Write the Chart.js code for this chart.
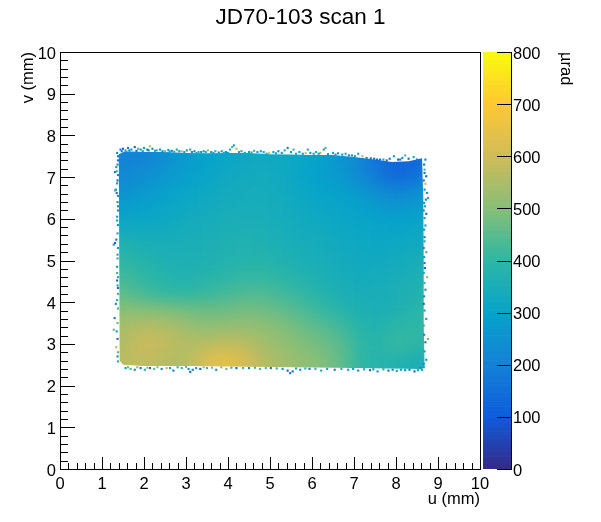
<!DOCTYPE html>
<html>
<head>
<meta charset="utf-8">
<script src="https://cdn.jsdelivr.net/npm/chart.js@4"></script>
<style>
html, body { margin: 0; padding: 0; background: #fff; overflow: hidden; }
#wrap { position: relative; width: 601px; height: 522px; }
canvas { position: absolute; top: 0; }
#main-chart { left: 0; }
#palette-chart { left: 483px; }
</style>
</head>
<body>
<div id="wrap">
<canvas id="main-chart" width="601" height="522"></canvas>
<canvas id="palette-chart" width="118" height="522"></canvas>
</div>
<script>
const chartTitle = 'JD70-103 scan 1';
const xTitle = 'u (mm)';
const yTitle = 'v (mm)';
const paletteTitle = 'µrad';
const axisTicks = [0, 1, 2, 3, 4, 5, 6, 7, 8, 9, 10];
const paletteTicks = [0, 100, 200, 300, 400, 500, 600, 700, 800];

// sample positions of the map
const gridU = [1.2, 1.6, 2.0, 2.4, 2.8, 3.2, 3.6, 4.0, 4.4, 4.8, 5.2, 5.6, 6.0, 6.4, 6.8, 7.2, 7.6, 8.0, 8.4, 8.8];
const gridV = [7.8, 7.4, 7.0, 6.6, 6.2, 5.8, 5.4, 5.0, 4.6, 4.2, 3.8, 3.4, 3.0, 2.6, 2.2];

// deflection, one row per gridV entry
const gridValues = [
    [205, 205, 205, 225, 255, 280, 295, 310, 320, 325, 325, 315, 300, 275, 245, 205, 150, 125, 130, 150],
    [205, 205, 210, 232, 262, 285, 300, 312, 322, 328, 325, 315, 302, 280, 250, 205, 155, 125, 130, 155],
    [222, 225, 240, 260, 282, 298, 312, 325, 332, 336, 330, 316, 298, 280, 258, 220, 175, 135, 150, 190],
    [250, 255, 272, 288, 304, 316, 326, 334, 340, 340, 335, 322, 308, 298, 288, 268, 238, 220, 235, 255],
    [288, 290, 298, 310, 320, 328, 336, 342, 346, 346, 340, 330, 320, 312, 306, 295, 280, 272, 280, 288],
    [330, 328, 326, 328, 334, 340, 348, 352, 354, 352, 346, 338, 330, 324, 316, 310, 305, 302, 308, 314],
    [370, 365, 355, 350, 350, 352, 358, 364, 368, 364, 356, 348, 342, 334, 326, 320, 318, 320, 326, 332],
    [400, 392, 376, 362, 356, 358, 364, 372, 378, 378, 370, 358, 350, 342, 334, 328, 328, 334, 342, 348],
    [428, 418, 400, 382, 372, 374, 385, 395, 403, 405, 395, 380, 364, 352, 342, 338, 340, 345, 354, 362],
    [458, 448, 428, 405, 398, 402, 414, 426, 436, 438, 425, 410, 390, 370, 355, 348, 348, 355, 368, 380],
    [500, 505, 495, 495, 485, 472, 468, 470, 480, 475, 462, 445, 422, 398, 375, 358, 355, 362, 380, 395],
    [535, 550, 565, 560, 545, 520, 512, 518, 520, 512, 500, 478, 458, 440, 412, 378, 372, 395, 400, 395],
    [550, 565, 595, 590, 565, 560, 570, 578, 572, 540, 520, 502, 482, 465, 440, 395, 385, 412, 405, 390],
    [560, 572, 578, 570, 555, 580, 635, 640, 615, 570, 545, 525, 505, 485, 445, 395, 380, 375, 360, 350],
    [560, 572, 575, 568, 552, 580, 635, 640, 615, 570, 545, 525, 505, 485, 445, 395, 380, 370, 355, 345]
];

// edge of the scanned area
const outlineU = [1.40, 1.55, 2.0, 2.5, 3.0, 3.5, 4.0, 4.5, 5.0, 5.5, 6.0, 6.5, 7.0, 7.5, 7.9, 8.3, 8.62, 8.65, 8.66, 8.66, 8.68, 8.6, 7.0, 5.5, 4.0, 3.0, 2.0, 1.5, 1.42];
const outlineV = [7.55, 7.62, 7.6, 7.6, 7.58, 7.57, 7.58, 7.58, 7.55, 7.54, 7.53, 7.53, 7.48, 7.42, 7.36, 7.38, 7.45, 6.5, 5.0, 3.5, 2.45, 2.4, 2.42, 2.44, 2.46, 2.47, 2.47, 2.5, 2.6];

// noisy single bins round the edge
const fringeU = [
    1.44, 1.50, 1.56, 1.62, 1.70, 1.78, 1.86, 1.92, 2.00, 2.08,
    2.14, 2.20, 2.30, 2.38, 2.50, 2.58, 2.66, 2.78, 2.90, 3.02,
    3.10, 3.20, 3.30, 3.42, 3.52, 3.60, 3.70, 3.85, 3.95, 4.05,
    4.10, 4.14, 4.20, 4.32, 4.50, 4.62, 4.78, 4.85, 4.98, 5.08,
    5.20, 5.35, 5.42, 5.50, 5.56, 5.70, 5.85, 5.90, 5.96, 6.10,
    6.20, 6.28, 6.32, 6.50, 6.62, 6.80, 6.95, 7.10, 7.20, 7.40,
    7.55, 7.70, 7.85, 7.95, 8.05, 8.15, 8.22, 8.30, 8.42, 8.50,
    1.47, 1.65, 1.82, 1.97, 2.11, 2.26, 2.44, 2.61, 2.72, 2.84,
    2.96, 3.14, 3.25, 3.36, 3.47, 3.65, 3.78, 3.90, 4.00, 4.26,
    4.40, 4.56, 4.70, 4.92, 5.14, 5.28, 5.62, 5.78, 6.04, 6.16,
    6.38, 6.56, 6.72, 6.88, 7.02, 7.30, 7.48, 7.62, 7.78, 8.10,
    1.36, 1.38, 1.34, 1.31, 1.35, 1.37, 1.33, 1.31, 1.35, 1.38,
    1.36, 1.31, 1.28, 1.34, 1.37, 1.36, 1.38, 1.33, 1.30, 1.28,
    1.35, 1.37, 1.34, 1.37, 1.38, 1.36,
    1.38, 1.37, 1.38, 1.36, 1.38, 1.37, 1.38, 1.36, 1.38, 1.37,
    1.38, 1.37, 1.36, 1.38, 1.37, 1.38, 1.36, 1.38, 1.37, 1.38,
    8.70, 8.68, 8.72, 8.70, 8.74, 8.76, 8.71, 8.69, 8.72, 8.70,
    8.68, 8.72, 8.69, 8.74, 8.70, 8.66, 8.72, 8.76, 8.70, 8.72,
    8.67, 8.68, 8.66, 8.68, 8.67, 8.66, 8.68, 8.67, 8.68, 8.66,
    8.67, 8.68, 8.66, 8.68, 8.67, 8.68, 8.66, 8.67, 8.68, 8.66,
    1.56, 1.68, 1.78, 1.92, 2.02, 2.14, 2.24, 2.42, 2.62, 2.70,
    2.90, 3.06, 3.10, 3.16, 3.24, 3.34, 3.50, 3.72, 3.96, 4.20,
    4.50, 4.76, 5.02, 5.30, 5.42, 5.48, 5.54, 5.72, 5.94, 6.22,
    6.54, 6.86, 7.10, 7.38, 7.56, 7.82, 8.02, 8.22, 8.44, 8.62,
    1.62, 1.84, 2.08, 2.32, 2.54, 2.80, 3.00, 3.42, 3.62, 3.84,
    4.08, 4.36, 4.64, 4.90, 5.16, 5.62, 5.84, 6.08, 6.36, 6.70,
    6.98, 7.24, 7.46, 7.70, 7.92, 8.12, 8.32, 8.52, 8.58, 8.66
];
const fringeV = [
    7.66, 7.68, 7.64, 7.70, 7.66, 7.72, 7.68, 7.66, 7.70, 7.66,
    7.74, 7.68, 7.64, 7.66, 7.62, 7.65, 7.63, 7.66, 7.62, 7.64,
    7.66, 7.62, 7.60, 7.62, 7.64, 7.60, 7.62, 7.62, 7.60, 7.66,
    7.72, 7.76, 7.68, 7.62, 7.60, 7.63, 7.62, 7.60, 7.58, 7.60,
    7.62, 7.64, 7.70, 7.60, 7.66, 7.60, 7.58, 7.66, 7.58, 7.60,
    7.58, 7.66, 7.70, 7.58, 7.57, 7.56, 7.52, 7.56, 7.50, 7.45,
    7.42, 7.42, 7.44, 7.50, 7.42, 7.46, 7.52, 7.44, 7.48, 7.42,
    7.62, 7.64, 7.63, 7.62, 7.64, 7.63, 7.62, 7.61, 7.61, 7.62,
    7.60, 7.60, 7.58, 7.60, 7.60, 7.58, 7.59, 7.58, 7.58, 7.60,
    7.58, 7.59, 7.60, 7.56, 7.57, 7.58, 7.56, 7.56, 7.56, 7.56,
    7.55, 7.54, 7.54, 7.52, 7.50, 7.46, 7.44, 7.42, 7.40, 7.42,
    7.58, 7.40, 7.24, 7.12, 7.14, 6.92, 6.70, 6.68, 6.62, 6.30,
    5.96, 5.42, 5.38, 5.50, 5.14, 4.70, 4.34, 3.96, 3.62, 3.34,
    3.30, 3.12, 2.92, 2.70, 2.58, 4.52,
    7.50, 7.30, 7.05, 6.85, 6.55, 6.40, 6.20, 6.05, 5.85, 5.65,
    5.30, 5.05, 4.85, 4.60, 4.40, 4.20, 4.05, 3.85, 3.50, 2.80,
    7.42, 7.18, 7.02, 6.84, 6.62, 6.50, 6.46, 6.30, 6.12, 5.84,
    5.56, 5.20, 4.82, 4.60, 4.30, 3.96, 3.60, 3.12, 3.04, 2.62,
    7.30, 7.10, 6.92, 6.70, 6.38, 6.20, 6.02, 5.74, 5.46, 5.30,
    5.08, 4.94, 4.70, 4.46, 4.14, 3.80, 3.44, 3.22, 2.82, 2.52,
    2.42, 2.40, 2.38, 2.42, 2.38, 2.42, 2.40, 2.40, 2.42, 2.36,
    2.42, 2.40, 2.33, 2.38, 2.42, 2.40, 2.42, 2.38, 2.40, 2.42,
    2.42, 2.40, 2.42, 2.40, 2.36, 2.30, 2.34, 2.38, 2.40, 2.36,
    2.38, 2.38, 2.36, 2.37, 2.34, 2.36, 2.35, 2.37, 2.34, 2.38,
    2.44, 2.44, 2.43, 2.44, 2.42, 2.44, 2.45, 2.44, 2.43, 2.44,
    2.43, 2.42, 2.43, 2.42, 2.41, 2.41, 2.41, 2.40, 2.40, 2.40,
    2.40, 2.39, 2.39, 2.39, 2.38, 2.38, 2.38, 2.37, 2.42, 2.44
];
const fringeVal = [
    210, 120, 330, 180, 250, 130, 410, 240, 300, 160,
    560, 220, 340, 260, 510, 300, 190, 330, 610, 280,
    350, 230, 400, 300, 520, 280, 360, 300, 240, 340,
    420, 300, 600, 330, 300, 420, 280, 340, 620, 300,
    240, 350, 180, 300, 420, 300, 600, 350, 290, 340,
    560, 320, 430, 300, 260, 330, 240, 320, 560, 200,
    130, 340, 180, 300, 120, 260, 420, 140, 350, 180,
    170, 240, 130, 280, 190, 330, 220, 280, 350, 240,
    300, 240, 320, 270, 340, 300, 260, 330, 300, 320,
    290, 350, 300, 330, 290, 310, 320, 290, 300, 280,
    290, 260, 280, 240, 260, 220, 170, 150, 130, 150,
    230, 140, 300, 200, 360, 130, 220, 400, 160, 250,
    300, 120, 280, 170, 330, 420, 150, 230, 180, 450,
    300, 140, 560, 220, 360, 130,
    180, 240, 200, 260, 220, 280, 240, 300, 260, 320,
    280, 340, 300, 360, 320, 400, 340, 420, 460, 440,
    180, 420, 140, 560, 250, 340, 180, 300, 130, 260,
    200, 420, 150, 520, 230, 130, 300, 470, 150, 250,
    150, 190, 130, 240, 280, 210, 300, 250, 340, 200,
    300, 180, 340, 400, 230, 300, 360, 200, 300, 240,
    300, 430, 240, 180, 360, 130, 450, 220, 300, 180,
    400, 260, 120, 180, 300, 140, 410, 240, 480, 130,
    200, 430, 170, 280, 120, 180, 140, 260, 190, 320,
    170, 300, 240, 130, 280, 150, 350, 200, 130, 300,
    460, 510, 530, 490, 560, 380, 450, 540, 480, 520,
    400, 430, 390, 440, 400, 360, 380, 410, 340, 370,
    280, 320, 250, 340, 200, 300, 170, 280, 230, 300
];

// kBird palette stops (position 0..1, then rgb)
const birdStops = [0, 0.125, 0.25, 0.375, 0.5, 0.625, 0.75, 0.875, 1];
const birdRed = [53, 15, 20, 6, 46, 135, 209, 254, 249];
const birdGreen = [42, 92, 129, 164, 183, 191, 187, 200, 251];
const birdBlue = [135, 221, 214, 202, 164, 119, 89, 50, 14];
const paletteMax = 800;

function birdColor(value) {
    const t = Math.min(Math.max(value / paletteMax, 0), 1);
    let i = 0;
    while (i < birdStops.length - 2 && t > birdStops[i + 1]) i++;
    const f = (t - birdStops[i]) / (birdStops[i + 1] - birdStops[i]);
    const mix = arr => Math.round(arr[i] + (arr[i + 1] - arr[i]) * f);
    return `rgb(${mix(birdRed)},${mix(birdGreen)},${mix(birdBlue)})`;
}

const labelFont = { family: '"Liberation Sans", Arial, sans-serif', size: 16.5 };

const mapPoints = [];
gridV.forEach((v, row) => {
    gridU.forEach((u, col) => {
        mapPoints.push({ x: u, y: v, value: gridValues[row][col] });
    });
});
const fringePoints = fringeU.map((u, i) => ({ x: u, y: fringeV[i], value: fringeVal[i] }));

// Chart.js draws the last dataset first, so the map sits at index 1
const mapDatasetIndex = 1;

// the grid is coarse: blur what was drawn, then keep only the part inside the scan edge
const mapSmoothPlugin = {
    id: 'mapSmooth',
    afterDatasetDraw(chart, args) {
        if (args.index !== mapDatasetIndex) return;
        const ctx = chart.ctx;
        const area = chart.chartArea;
        const copy = document.createElement('canvas');
        copy.width = chart.canvas.width;
        copy.height = chart.canvas.height;
        const copyCtx = copy.getContext('2d');
        copyCtx.filter = 'blur(8px)';
        copyCtx.drawImage(chart.canvas, 0, 0);
        ctx.save();
        ctx.clearRect(area.left, area.top, area.right - area.left, area.bottom - area.top);
        ctx.beginPath();
        outlineU.forEach((u, i) => {
            const px = chart.scales.x.getPixelForValue(u);
            const py = chart.scales.y.getPixelForValue(outlineV[i]);
            if (i === 0) ctx.moveTo(px, py);
            else ctx.lineTo(px, py);
        });
        ctx.closePath();
        ctx.clip();
        ctx.drawImage(copy, 0, 0, chart.width, chart.height);
        ctx.restore();
    }
};

// ROOT style inward ticks and plot frame
const frameTicksPlugin = {
    id: 'frameTicks',
    afterDatasetsDraw(chart) {
        const ctx = chart.ctx;
        const { left, right, top, bottom } = chart.chartArea;
        const xScale = chart.scales.x;
        const yScale = chart.scales.y;
        ctx.save();
        ctx.strokeStyle = '#000';
        ctx.lineWidth = 1;
        ctx.strokeRect(left + 0.5, top + 0.5, right - left, bottom - top);
        ctx.beginPath();
        axisTicks.forEach((tick, i) => {
            const px = Math.round(xScale.getPixelForValue(tick)) + 0.5;
            const py = Math.round(yScale.getPixelForValue(tick)) + 0.5;
            ctx.moveTo(px, bottom);
            ctx.lineTo(px, bottom - 12);
            ctx.moveTo(left, py);
            ctx.lineTo(left + 15, py);
            if (i === axisTicks.length - 1) return;
            for (let m = 1; m < 5; m++) {
                const mx = Math.round(xScale.getPixelForValue(tick + m / 5)) + 0.5;
                const my = Math.round(yScale.getPixelForValue(tick + m / 5)) + 0.5;
                ctx.moveTo(mx, bottom);
                ctx.lineTo(mx, bottom - 6);
                ctx.moveTo(left, my);
                ctx.lineTo(left + 8, my);
            }
        });
        ctx.stroke();
        ctx.restore();
    }
};

new Chart(document.getElementById('main-chart').getContext('2d'), {
    type: 'scatter',
    data: {
        datasets: [{
            label: 'fringe',
            data: fringePoints,
            pointStyle: 'rect',
            pointRadius: 1.5,
            borderWidth: 0,
            backgroundColor: ctx => birdColor(ctx.raw.value)
        }, {
            label: 'map',
            data: mapPoints,
            pointStyle: 'rect',
            pointRadius: 12.5,
            pointHoverRadius: 12.5,
            borderWidth: 0,
            backgroundColor: ctx => birdColor(ctx.raw.value)
        }]
    },
    options: {
        responsive: false,
        animation: false,
        events: [],
        layout: { padding: 0 },
        plugins: {
            legend: { display: false },
            tooltip: { enabled: false },
            title: {
                display: true,
                text: chartTitle,
                color: '#000',
                font: { family: labelFont.family, size: 22.5, weight: 'normal', lineHeight: 1.2 },
                padding: { top: 4, bottom: 21 }
            }
        },
        scales: {
            x: {
                type: 'linear',
                min: 0,
                max: 10,
                afterFit(scale) { scale.height = 53; },
                grid: { display: false, drawTicks: false },
                border: { display: false },
                ticks: {
                    stepSize: 1,
                    color: '#000',
                    font: labelFont,
                    padding: 6,
                    maxRotation: 0,
                    autoSkip: false
                },
                title: {
                    display: true,
                    text: xTitle,
                    align: 'end',
                    color: '#000',
                    font: labelFont,
                    padding: { top: 0, bottom: 13 }
                }
            },
            y: {
                type: 'linear',
                min: 0,
                max: 10,
                afterFit(scale) { scale.width = 60; },
                grid: { display: false, drawTicks: false },
                border: { display: false },
                ticks: {
                    stepSize: 1,
                    color: '#000',
                    font: labelFont,
                    padding: 4,
                    labelOffset: 2,
                    autoSkip: false
                },
                title: {
                    display: true,
                    text: yTitle,
                    align: 'end',
                    color: '#000',
                    font: labelFont,
                    padding: { top: 19, bottom: 0 }
                }
            },
            // keeps the plot clear of the palette, and the title centred on the page
            spacer: {
                type: 'linear',
                position: 'right',
                display: true,
                afterFit(scale) { scale.width = 121; },
                grid: { display: false, drawTicks: false },
                border: { display: false },
                ticks: { display: false }
            }
        }
    },
    plugins: [mapSmoothPlugin, frameTicksPlugin]
});

// palette bands drawn as floating bars
const paletteLevels = [];
for (let level = 0; level < paletteMax; level += 8) paletteLevels.push(level);

const paletteFramePlugin = {
    id: 'paletteFrame',
    afterDatasetsDraw(chart) {
        const ctx = chart.ctx;
        const { right, top, bottom } = chart.chartArea;
        ctx.save();
        ctx.strokeStyle = '#000';
        ctx.lineWidth = 1;
        ctx.beginPath();
        ctx.moveTo(right + 0.5, top);
        ctx.lineTo(right + 0.5, bottom + 1);
        paletteTicks.forEach(tick => {
            const py = Math.round(chart.scales.y.getPixelForValue(tick)) + 0.5;
            ctx.moveTo(right, py);
            ctx.lineTo(right - 14, py);
        });
        ctx.stroke();
        ctx.restore();
    }
};

new Chart(document.getElementById('palette-chart').getContext('2d'), {
    type: 'bar',
    data: {
        labels: ['palette'],
        datasets: paletteLevels.map(level => ({
            data: [[level, level + 8]],
            backgroundColor: birdColor(level + 4),
            grouped: false,
            barPercentage: 1,
            categoryPercentage: 1
        }))
    },
    options: {
        responsive: false,
        animation: false,
        events: [],
        layout: { padding: { top: 52, bottom: 53 } },
        plugins: { legend: { display: false }, tooltip: { enabled: false } },
        scales: {
            x: { display: false },
            y: {
                position: 'right',
                min: 0,
                max: paletteMax,
                afterFit(scale) { scale.width = 90; },
                grid: { display: false, drawTicks: false },
                border: { display: false },
                ticks: {
                    stepSize: 100,
                    color: '#000',
                    font: labelFont,
                    padding: 2,
                    labelOffset: 2,
                    autoSkip: false
                },
                title: {
                    display: true,
                    text: paletteTitle,
                    align: 'end',
                    color: '#000',
                    font: labelFont,
                    padding: { top: 26, bottom: 0 }
                }
            }
        }
    },
    plugins: [paletteFramePlugin]
});
</script>
</body>
</html>
